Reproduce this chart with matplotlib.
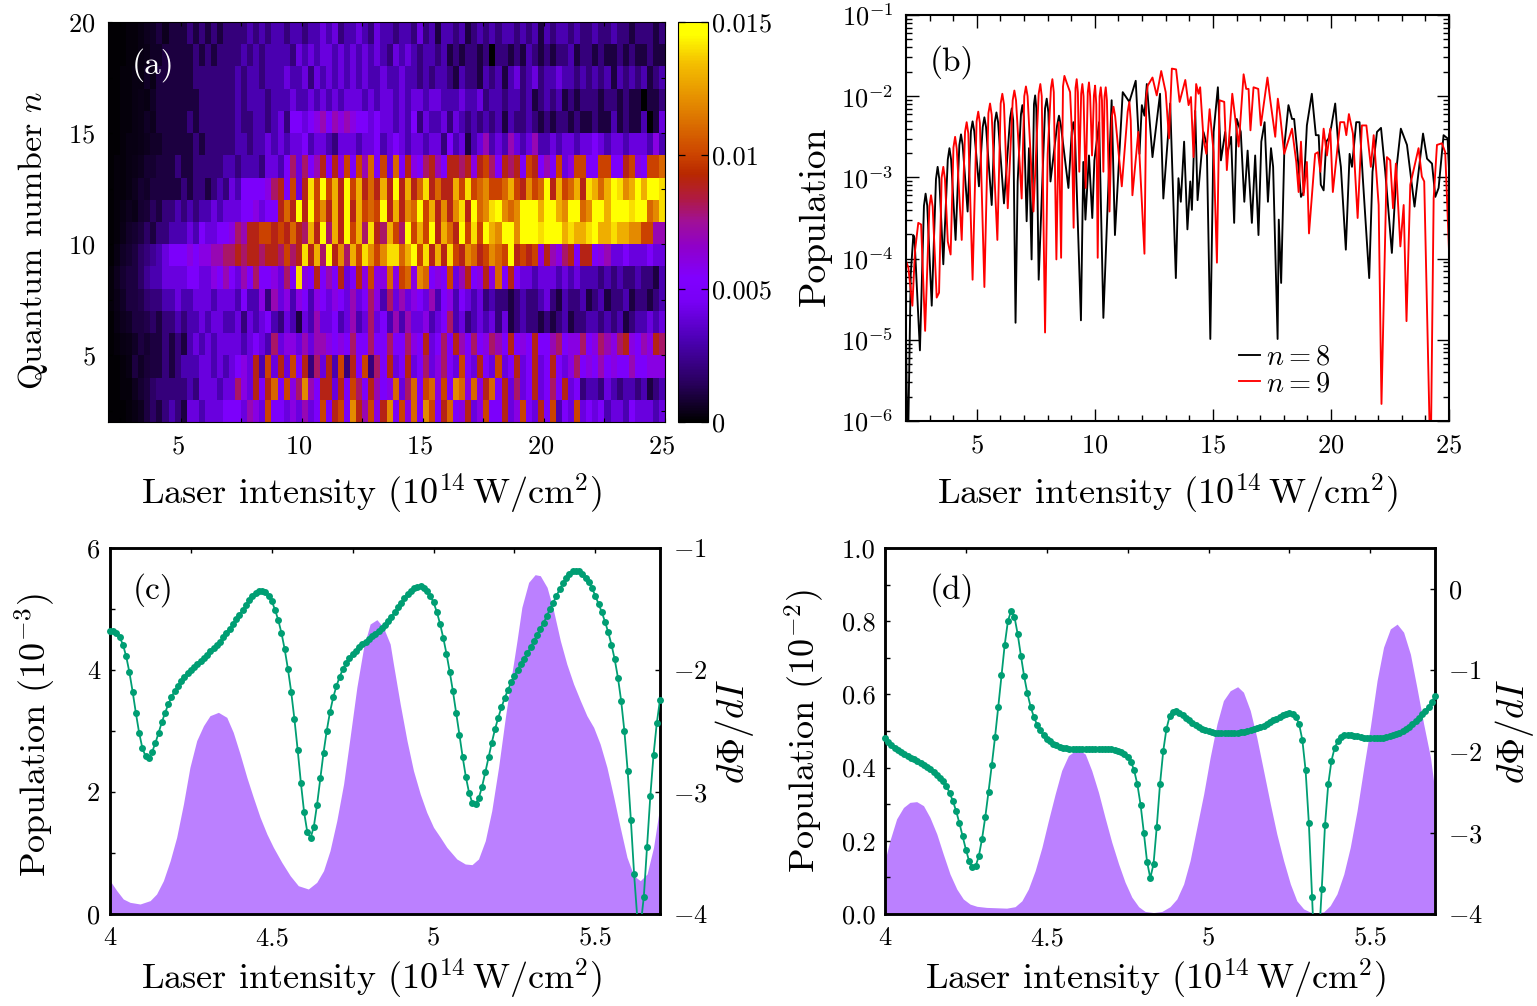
import numpy as np
import matplotlib
matplotlib.use('Agg')
import matplotlib.pyplot as plt
from matplotlib.colors import LinearSegmentedColormap
from matplotlib.ticker import MultipleLocator, FixedLocator, NullFormatter
from matplotlib.transforms import ScaledTranslation

plt.rcParams.update({'font.family': 'cmr10', 'mathtext.fontset': 'cm', 'axes.unicode_minus': False,
                     'axes.formatter.use_mathtext': True, 'font.size': 19})

# ---------- panel (a): population, units of 0.001, columns x = 2, 2.25, ... 24.75
r19 = [.1,.1,.1,.2, .2,.3,.5,.6, 1,0.5,1,1, 1,2,1,2, 1,2,1,2, 2,2,2,3, 2,3,2,3, 3,2,3,3, 2,3,3,4, 3,4,2,3, 3,4,3,2, 4,3,3,2, 3,3,2,4, 2,3,1,3, 3,2,3,1, 2,3,2,3, 2,3,3,2, 3,2,3,1, 3,2,3,3, 2,3,2,2, 3,2,2,3, 2,2,1,2, 2,2,1,2]
r18 = [.1,.1,.1,.2, .2,.3,.4,.6, .6,1,1,1, 1,1,2,1, 2,1,2,2, 2,2,3,2, 3,2,3,3, 3,3,2,4, 3,4,3,4, 4,3,4,3, 4,3,4,3, 4,3,2,4, 3,4,3,2, 3,3,2,3, 1,2,1,2, 2,1,2,0, 2,2,1,2, 1,3,2,1, 2,1,2,2, 3,1,2,2, 1,2,1,1, 2,1,2,1, 1,2,1,1]
r17 = [.1,.1,.2,.2, .3,.3,.6,.4, 1,1,1,1, 1,1,2,2, 2,2,2,2, 2,3,2,3, 3,2,3,3, 3,4,3,3, 4,2,4,3, 4,3,4,3, 4,3,4,3, 3,4,3,3, 4,3,3,2, 3,2,3,3, 2,1,3,2, 2,1,3,2, 3,1,3,4, 2,3,4,2, 3,3,4,3, 3,2,3,2, 3,2,3,1, 3,2,3,2, 3,1,2,3]
r16 = [.1,.1,.2,.2, .3,.4,.3,.6, 1,1,1,1, 1,1,1,2, 2,2,2,2, 2,3,2,3, 3,3,2,3, 3,3,4,3, 3,4,3,4, 3,4,3,4, 4,4,3,4, 3,4,4,3, 4,3,4,4, 3,4,4,3, 3,3,4,3, 3,4,2,3, 3,2,3,3, 2,3,1,2, 3,2,3,1, 2,1,2,2, 2,1,2,2, 1,2,1,1, 0,1,1,2]
r15 = [.1,.1,.2,.2, .3,.4,.6,.5, 1,1,1,1, 1,2,1,2, 2,2,2,2, 2,3,2,2, 3,3,2,3, 4,2,5,5, 4,5,6,7, 5,7,6,7, 6,5,5,4, 5,4,4,3, 4,3,5,2, 4,3,3,4, 2,4,3,2, 3,2,3,2, 3,1,3,2, 2,3,2,1, 2,1,2,2, 1,2,1,1, 2,1,1,3, 1,2,1,1, 3,0,1,4]
r14 = [.1,.1,.2,.3, .3,.4,.5,.7, .7,1,1,1, 1,1,2,1, 2,2,2,2, 2,3,3,2, 3,3,4,3, 4,3,4,4, 5,3,4,4, 3,2,4,4, 4,3,4,4, 5,3,4,5, 4,3,4,4, 3,4,4,2, 5,3,4,1, 3,4,7,3, 4,3,7,4, 3,4,7,3, 3,4,3,4, 4,3,4,4, 5,4,3,4, 4,3,4,4, 4,3,6,3]
r13 = [.1,.2,.2,.3, .4,.5,.8,.8, 1,1,1,2, 1,1,2,2, 2,2,2,3, 3,2,3,3, 3,2,4,4, 3,5,8,4, 8,5,7,9, 5,9,6,10, 5,10,7,11, 5,10,4,11, 5,9,6,5, 8,9,7,5, 9,9,8,9, 6,9,10,8, 5,9,8,9, 5,10,9,5, 7,5,10,4, 6,10,10,5, 5,10,10,5, 5,9,10,6, 5,10,10,11]
r12 = [.1,.2,.2,.3, .5,.8,.7,1, 1,1,1,1, 2,1,2,2, 1,2,3,2, 4,3,5,5, 5,5,6,8, 9,5,10,4, 9,14,10,15, 10,13,9,15, 10,13,9,11, 9,13,9,15, 9,13,9,11, 14,9,11,9, 9,13,10,14, 10,11,12,10, 10,11,13,10, 9,12,10,11, 15,9,13,10, 11,13,9,14, 13,11,13,15, 14,12,13,15, 13,15,16,14]
r11 = [.1,.2,.3,.5, .4,.8,.9,1.5, 1,2,2,3, 2,3,2,3, 3,4,3,4, 4,4,5,5, 6,4,5,5, 9,11,9,15, 9,15,10,12, 9,13,9,15, 9,13,10,11, 10,15,9,13, 9,12,11,15, 10,13,9,12, 9,12,14,9, 15,11,12,14, 15,12,11,12, 15,16,15,13, 15,16,13,12, 16,16,11,12, 16,15,13,15, 16,15,14,16, 15,11,12,14]
r10 = [.1,.2,.4,.7, .8,1,1.6,1, 2,2,3,3, 3,4,3,5, 4,4,5,5, 6,8,7,9, 9,10,10,9, 10,9,11,9, 8,13,9,15, 8,13,9,15, 10,13,8,14, 9,8,13,10, 8,15,10,13, 10,15,9,13, 11,9,15,10, 14,10,15,13, 12,15,16,12, 16,16,16,14, 15,16,16,13, 14,13,13,14, 15,13,13,14, 13,13,12,12, 10,10,7,7]
r9 = [.1,.3,.6,.8, 1,1.6,2,2.5, 3,4,5,5, 5,6,5,6, 6,7,7,8, 8,9,8,9, 9,8,9,9, 8,10,8,9, 14,9,13,8, 15,9,12,8, 13,10,14,12, 10,12,14,14, 11,13,15,10, 14,9,13,9, 14,10,9,12, 11,9,10,12, 11,10,15,9, 10,9,10,6, 9,7,6,8, 9,5,9,9, 5,6,7,4, 4,5,4,4, 4,5,4,4]
r8 = [.2,.5,.8,1, 1,1.6,2.5,3, 3,4,4,4, 4,5,5,4, 4,6,5,7, 5,4,7,5, 8,5,5,6, 4,8,5,14, 6,5,9,5, 7,5,9,4, 5,9,6,10, 6,6,11,6, 10,11,6,12, 11,5,6,5, 10,4,7,9, 5,6,9,6, 11,5,9,5, 4,4,3,4, 4,4,3,4, 3,4,3,3, 3,2,3,2, 3,2,2,3, 2,2,1,3]
r7 = [.2,.4,.6,1, 1,1.2,1.8,2, 2,3,3,4, 3,3,4,4, 4,3,4,4, 4,3,5,3, 3,6,2,7, 4,6,3,6, 5,3,6,5, 4,6,5,4, 7,4,5,8, 6,3,8,4, 7,4,6,5, 4,7,3,5, 6,3,5,4, 3,4,2,3, 2,2,1,2, 3,2,2,3, 4,2,1,3, 2,2,3,1, 2,3,1,2, 2,3,1,2, 2,1,2,3]
r6 = [.1,.3,.5,.6, 1,1,1.2,1.6, 1,2,2,3, 2,3,3,4, 3,4,4,3, 3,4,2,4, 3,4,5,3, 2,4,3,1, 4,3,7,4, 4,5,3,4, 7,3,4,8, 4,5,3,7, 3,7,4,4, 6,3,4,5, 8,3,4,2, 3,4,3,4, 2,4,1,2, 3,2,2,1, 2,1,2,3, 1,2,2,3, 3,2,3,2, 3,1,2,3, 3,4,3,4]
r5 = [.1,.2,.3,.4, .6,1,.8,1, 1,2,1,2, 1,3,4,3, 4,3,4,4, 4,4,3,4, 5,4,3,8, 4,6,6,4, 7,4,7,7, 6,5,6,5, 8,5,5,8, 5,5,8,5, 5,8,6,5, 9,4,5,8, 5,9,7,5, 8,5,6,8, 7,5,9,5, 6,5,9,5, 5,7,8,5, 6,6,8,5, 6,8,7,6, 8,9,6,5, 7,6,9,8]
r4 = [.1,.1,.2,.3, 1,.6,.9,1, 1,2,1,2, 3,3,3,4, 4,3,4,3, 4,5,6,4, 9,3,10,4, 9,4,10,5, 9,2,8,4, 9,3,10,2, 9,5,10,2, 8,5,9,4, 5,9,4,5, 8,4,6,8, 5,4,10,5, 4,9,5,4, 10,4,5,9, 4,5,9,4, 5,9,5,4, 6,8,5,6, 5,7,5,6, 5,5,7,5, 5,6,6,6]
r3 = [.1,.1,.2,.2, .5,.8,1,1.6, 2,2,2,2, 2,3,2,4, 4,4,3,4, 4,8,6,4, 9,5,9,11, 5,10,6,8, 12,7,5,9, 9,4,9,5, 10,8,5,9, 7,5,6,11, 4,8,11,5, 10,11,6,10, 5,12,11,6, 11,6,9,11, 5,9,4,8, 4,5,9,4, 5,8,5,9, 4,5,2,3, 3,2,4,3, 2,3,3,2, 3,1,2,3]
r2 = [.1,.1,.1,.2, .3,.5,1,1.6, 1,2,3,2, 1,4,4,3, 4,4,4,5, 5,5,4,7, 6,4,10,5, 5,4,6,4, 7,4,5,10, 5,9,10,5, 12,9,7,10, 6,9,12,5, 10,6,11,5, 12,10,5,9, 11,5,6,9, 4,6,10,5, 5,9,4,6, 10,5,4,9, 5,10,3,5, 4,10,4,5, 4,5,3,4, 4,3,5,4, 4,4,3,4]
heat_rows = [r2, r3, r4, r5, r6, r7, r8, r9, r10, r11, r12, r13, r14, r15, r16, r17, r18, r19]
heat_x_edges = np.arange(2, 25.01, 0.25)
heat_n_edges = np.arange(2, 21)
cbar_ticks = [0, 0.005, 0.01, 0.015]
cbar_labels = ['0', '0.005', '0.01', '0.015']

# ---------- panel (b): log10 of population
n8_x_head = [2.00,2.05,2.10,2.20,2.31,2.36,2.59,2.76,2.83,2.90,3.09,3.27,3.34,3.41,3.58,3.77,3.84,3.91,4.10,4.26,4.33,4.40,4.61,4.75,4.82,4.89,5.09,5.25,5.32,5.39,5.63,5.76,5.83,5.90,6.15,6.41,6.48,6.54,6.64,6.73,6.87,6.93,6.99,7.11,7.21,7.32,7.42,7.47,7.52,7.62,7.89,7.96,8.03,8.12,8.40,8.48,8.56,8.88,9.02,9.09,9.16,9.41]
n8_log_head = [-5.00,-6.05,-6.05,-4.20,-3.71,-3.75,-5.13,-3.35,-3.20,-3.35,-4.58,-3.02,-2.87,-3.02,-4.07,-2.78,-2.64,-2.78,-3.77,-2.60,-2.47,-2.60,-3.42,-2.43,-2.31,-2.43,-3.11,-2.38,-2.26,-2.38,-3.34,-2.32,-2.20,-2.32,-3.32,-2.27,-2.15,-2.30,-4.79,-3.05,-2.22,-2.11,-2.25,-3.54,-2.64,-4.01,-2.10,-1.99,-2.15,-4.26,-2.15,-2.03,-2.20,-3.05,-2.36,-2.24,-2.36,-3.13,-2.44,-2.32,-2.50,-4.76]
n8_x_tail = [9.51,9.60,9.75,9.89,9.98,10.18,10.36,10.71,10.85,11.18,11.46,11.73,11.89,11.99,12.10,12.20,12.44,12.55,12.76,12.90,13.09,13.19,13.43,13.54,13.64,13.78,13.92,14.04,14.11,14.25,14.35,14.60,14.74,14.89,15.03,15.21,15.34,15.52,15.59,15.77,15.90,16.01,16.18,16.33,16.47,16.65,16.79,16.93,17.05,17.19,17.33,17.46,17.55,17.74,17.79,17.89,18.03,18.20,18.35,18.44,18.56,18.73,18.84,18.98,19.19,19.36,19.48,19.57,19.69,19.80,19.90,20.01,20.18,20.32,20.42,20.63,20.79,20.89,21.07,21.21,21.35,21.62,21.76,21.95,22.12,22.30,22.58,22.79,22.96,23.22,23.54,23.71,23.90,24.07,24.28,24.42,24.56,24.77,24.94,25.00]
n8_log_tail = [-2.81,-3.52,-2.73,-3.50,-2.79,-2.32,-4.73,-2.05,-3.71,-1.95,-2.07,-1.81,-2.71,-2.11,-2.24,-1.85,-2.75,-2.48,-1.97,-3.26,-2.52,-2.09,-4.24,-3.01,-3.30,-2.56,-3.64,-3.05,-3.40,-2.18,-3.28,-2.44,-2.60,-4.99,-2.44,-1.89,-2.79,-2.44,-2.73,-2.50,-3.56,-2.28,-2.44,-3.30,-2.67,-3.56,-2.73,-3.71,-2.56,-2.32,-3.30,-2.64,-2.87,-4.99,-3.52,-4.30,-2.60,-2.11,-2.28,-2.28,-2.64,-3.24,-3.18,-2.36,-1.97,-2.48,-2.48,-3.09,-3.16,-2.56,-2.52,-2.38,-2.09,-2.64,-2.87,-3.89,-2.71,-2.87,-2.32,-2.32,-3.01,-4.24,-2.93,-2.44,-2.39,-2.93,-3.93,-2.85,-2.40,-2.60,-3.36,-2.93,-2.46,-2.77,-2.83,-3.24,-3.13,-2.48,-2.52,-2.90]
n9_x_head = [2.00,2.10,2.27,2.38,2.52,2.64,2.81,2.99,3.06,3.13,3.30,3.40,3.51,3.58,3.65,3.77,3.89,4.01,4.08,4.15,4.36,4.50,4.57,4.64,4.82,4.99,5.06,5.13,5.32,5.49,5.56,5.63,5.87,6.01,6.08,6.15,6.31,6.52,6.59,6.66,6.90,7.01,7.08,7.15,7.40,7.62,7.69,7.75,7.89,8.00,8.14,8.20,8.26,8.37,8.47,8.57,8.65,8.71,8.79,8.95,9.02,9.10,9.18,9.23,9.28,9.34,9.42,9.47,9.52,9.61,9.70,9.75,9.80,9.88,9.96,10.01,10.06,10.12,10.20,10.25,10.30,10.36,10.41,10.46,10.51,10.62,10.72,10.79,10.86,11.14,11.39,11.46,11.52,11.59,11.84,12.10,12.18,12.24]
n9_log_head = [-4.03,-4.11,-4.58,-3.91,-3.56,-3.58,-4.89,-3.36,-3.22,-3.36,-4.48,-4.42,-3.00,-2.87,-3.02,-3.79,-3.95,-2.63,-2.50,-2.65,-3.77,-2.44,-2.32,-2.46,-4.26,-2.31,-2.19,-2.33,-4.35,-2.21,-2.09,-2.23,-3.77,-2.09,-1.97,-2.10,-3.38,-2.05,-1.93,-2.05,-3.26,-2.00,-1.88,-2.00,-3.42,-1.97,-1.85,-2.00,-4.91,-2.71,-1.90,-1.79,-1.95,-4.01,-2.32,-3.99,-1.88,-1.75,-1.82,-1.95,-2.40,-3.62,-1.90,-1.79,-1.95,-2.93,-1.97,-1.85,-2.00,-3.13,-1.95,-1.83,-2.00,-2.73,-1.99,-1.87,-2.10,-3.99,-2.00,-1.89,-2.05,-2.93,-2.00,-1.89,-2.05,-3.42,-2.25,-2.13,-2.25,-3.11,-2.19,-2.07,-2.30,-3.22,-2.44,-3.94,-2.00,-1.87]
n9_x_tail = [12.44,12.62,12.81,13.00,13.14,13.26,13.44,13.59,13.83,13.97,14.07,14.18,14.29,14.39,14.46,14.60,14.72,14.86,15.03,15.17,15.28,15.48,15.59,15.82,16.09,16.30,16.41,16.51,16.59,16.72,16.92,17.03,17.31,17.43,17.64,17.75,17.85,18.02,18.35,18.53,18.63,18.73,18.84,18.98,19.07,19.33,19.45,19.55,19.69,19.83,19.97,20.08,20.39,20.56,20.65,20.76,20.93,21.13,21.31,21.50,21.69,21.81,22.02,22.14,22.37,22.51,22.63,22.75,22.94,23.08,23.20,23.36,23.71,23.85,23.95,24.18,24.24,24.35,24.49,24.70,24.84,25.00]
n9_log_tail = [-1.77,-1.99,-1.69,-1.95,-2.52,-1.66,-1.67,-2.07,-1.80,-2.11,-2.01,-2.75,-1.85,-1.97,-1.89,-2.52,-2.71,-2.16,-2.69,-4.05,-2.05,-2.07,-2.91,-1.97,-2.62,-1.73,-1.91,-1.91,-2.42,-1.89,-1.91,-2.36,-1.77,-2.05,-2.50,-2.03,-2.24,-2.71,-2.40,-2.81,-3.18,-2.56,-3.22,-2.81,-3.69,-2.71,-2.69,-2.93,-2.40,-2.73,-2.40,-3.18,-2.32,-2.32,-2.48,-2.22,-2.46,-3.50,-2.36,-2.36,-2.87,-2.48,-3.34,-5.79,-2.75,-2.79,-3.38,-2.83,-3.85,-3.34,-4.77,-3.09,-2.64,-2.99,-3.05,-6.10,-6.10,-3.26,-2.60,-2.58,-2.69,-3.90]

# ---------- panel (c)
c_fill_x = [4.000,4.021,4.041,4.062,4.093,4.124,4.144,4.165,4.186,4.206,4.227,4.247,4.268,4.289,4.309,4.335,4.361,4.381,4.402,4.423,4.443,4.464,4.485,4.505,4.531,4.557,4.582,4.613,4.639,4.660,4.680,4.701,4.722,4.742,4.763,4.784,4.804,4.825,4.845,4.866,4.876,4.897,4.918,4.938,4.959,4.979,5.000,5.021,5.041,5.072,5.098,5.119,5.139,5.160,5.180,5.201,5.222,5.242,5.258,5.273,5.294,5.314,5.330,5.351,5.371,5.392,5.412,5.433,5.454,5.474,5.495,5.515,5.536,5.557,5.577,5.598,5.619,5.639,5.660,5.680,5.699]
c_fill_y = [.546,.383,.246,.191,.164,.219,.328,.546,.874,1.257,1.803,2.404,2.842,3.087,3.251,3.306,3.224,2.978,2.623,2.240,1.913,1.585,1.311,1.093,.847,.628,.464,.410,.519,.710,1.038,1.530,2.131,2.896,3.716,4.372,4.754,4.825,4.699,4.426,4.098,3.443,2.842,2.350,1.967,1.667,1.421,1.257,1.093,.902,.820,.809,.902,1.202,1.694,2.404,3.224,3.934,4.481,5.027,5.437,5.563,5.546,5.355,4.973,4.481,4.098,3.770,3.497,3.251,3.060,2.787,2.404,1.913,1.421,.929,.628,.546,.656,1.093,1.749]
c_dphi = [-1.678,-1.683,-1.700,-1.732,-1.792,-1.888,-2.019,-2.178,-2.353,-2.514,-2.639,-2.708,-2.719,-2.672,-2.601,-2.517,-2.429,-2.353,-2.282,-2.224,-2.170,-2.129,-2.088,-2.055,-2.025,-2.000,-1.973,-1.948,-1.924,-1.899,-1.875,-1.847,-1.823,-1.792,-1.768,-1.732,-1.697,-1.661,-1.623,-1.585,-1.547,-1.508,-1.467,-1.426,-1.394,-1.372,-1.355,-1.353,-1.364,-1.391,-1.435,-1.506,-1.590,-1.697,-1.831,-1.992,-2.178,-2.402,-2.653,-2.924,-3.167,-3.331,-3.377,-3.284,-3.104,-2.888,-2.678,-2.497,-2.344,-2.224,-2.131,-2.055,-1.992,-1.943,-1.905,-1.869,-1.842,-1.814,-1.787,-1.768,-1.746,-1.724,-1.702,-1.678,-1.659,-1.629,-1.596,-1.563,-1.528,-1.487,-1.448,-1.410,-1.377,-1.350,-1.328,-1.317,-1.314,-1.325,-1.350,-1.391,-1.446,-1.522,-1.620,-1.735,-1.866,-2.014,-2.175,-2.350,-2.530,-2.713,-2.877,-3.008,-3.090,-3.098,-3.049,-2.956,-2.839,-2.716,-2.596,-2.486,-2.391,-2.306,-2.230,-2.164,-2.101,-2.049,-1.997,-1.951,-1.907,-1.864,-1.814,-1.765,-1.716,-1.664,-1.615,-1.560,-1.500,-1.448,-1.391,-1.339,-1.290,-1.246,-1.213,-1.192,-1.186,-1.192,-1.213,-1.246,-1.282,-1.331,-1.391,-1.457,-1.525,-1.604,-1.691,-1.792,-1.913,-2.063,-2.254,-2.503,-2.825,-3.232,-3.675,-4.04,-4.10,-3.858,-3.448,-3.036,-2.697,-2.437,-2.246]

# ---------- panel (d)
d_fill_x = [4.000,4.015,4.036,4.057,4.077,4.098,4.119,4.139,4.160,4.180,4.201,4.222,4.242,4.263,4.284,4.314,4.345,4.376,4.402,4.423,4.443,4.464,4.485,4.505,4.526,4.546,4.567,4.588,4.603,4.619,4.639,4.660,4.680,4.701,4.722,4.742,4.763,4.784,4.804,4.830,4.856,4.881,4.902,4.923,4.943,4.964,4.985,5.005,5.026,5.046,5.067,5.090,5.108,5.129,5.149,5.170,5.191,5.211,5.232,5.253,5.273,5.294,5.315,5.335,5.356,5.376,5.397,5.418,5.438,5.459,5.480,5.500,5.521,5.541,5.562,5.583,5.603,5.624,5.644,5.665,5.686,5.696]
d_fill_y = [.146,.200,.260,.291,.305,.307,.296,.264,.219,.164,.109,.068,.041,.027,.021,.018,.017,.016,.020,.036,.068,.118,.182,.255,.328,.392,.433,.446,.446,.437,.392,.332,.264,.196,.137,.087,.046,.020,.007,.004,.007,.020,.041,.082,.146,.237,.328,.428,.519,.583,.610,.621,.606,.556,.483,.392,.301,.219,.146,.082,.036,.014,.005,.003,.006,.023,.055,.109,.182,.282,.401,.510,.638,.729,.779,.792,.770,.710,.619,.519,.428,.360]
d_dphi = [-1.832,-1.885,-1.926,-1.959,-1.988,-2.012,-2.037,-2.057,-2.078,-2.098,-2.119,-2.139,-2.164,-2.188,-2.217,-2.249,-2.286,-2.323,-2.368,-2.425,-2.515,-2.613,-2.736,-2.883,-3.043,-3.207,-3.350,-3.427,-3.415,-3.288,-3.076,-2.806,-2.495,-2.172,-1.828,-1.456,-1.067,-0.691,-0.397,-0.270,-0.344,-0.556,-0.822,-1.076,-1.284,-1.452,-1.575,-1.673,-1.742,-1.804,-1.845,-1.877,-1.906,-1.926,-1.943,-1.955,-1.963,-1.971,-1.975,-1.975,-1.975,-1.975,-1.975,-1.971,-1.971,-1.967,-1.967,-1.967,-1.967,-1.967,-1.971,-1.980,-1.992,-2.008,-2.037,-2.070,-2.127,-2.233,-2.405,-2.658,-2.998,-3.358,-3.558,-3.386,-2.928,-2.405,-1.996,-1.722,-1.566,-1.513,-1.505,-1.526,-1.554,-1.587,-1.620,-1.648,-1.677,-1.701,-1.722,-1.738,-1.755,-1.763,-1.771,-1.775,-1.779,-1.779,-1.779,-1.779,-1.775,-1.771,-1.767,-1.759,-1.750,-1.742,-1.730,-1.718,-1.701,-1.685,-1.665,-1.644,-1.620,-1.599,-1.575,-1.554,-1.538,-1.530,-1.538,-1.575,-1.665,-1.861,-2.233,-2.875,-3.791,-4.70,-4.40,-3.689,-2.908,-2.405,-2.115,-1.955,-1.873,-1.824,-1.804,-1.795,-1.800,-1.808,-1.816,-1.824,-1.832,-1.836,-1.840,-1.840,-1.840,-1.836,-1.832,-1.824,-1.816,-1.804,-1.787,-1.771,-1.750,-1.726,-1.697,-1.665,-1.628,-1.587,-1.546,-1.501,-1.452,-1.391,-1.321]
dot_x = np.arange(171) * 0.01 + 4.0

BLACK = '#000000'
RED = '#ff0000'
GREEN = '#009E73'
VIOLET = '#BB80FF'
W, H = 1537, 1006
fig = plt.figure(figsize=(W / 100, H / 100), dpi=100)

def box(l, t, r, b):
    return fig.add_axes([l / W, 1 - b / H, (r - l) / W, (b - t) / H])

def xlabel(ax, txt, x, y):
    ax.set_xlabel(txt, fontsize=26)
    ax.xaxis.set_label_coords(x, y)
    ax.xaxis.label.set_va('center')

def ylabel(ax, txt, x, fs=26, y=0.5):
    ax.set_ylabel(txt, fontsize=fs)
    ax.yaxis.set_label_coords(x, y)
    ax.yaxis.label.set_va('center')

XL = r'Laser intensity ($10^{14}\,$W/cm$^2$)'

# (a)
cmap = LinearSegmentedColormap.from_list('pm3d', [
    (0.0, '#000000'), (0.1, '#2a0060'), (0.2, '#4a00b0'), (0.3, '#7800f5'), (0.36, '#8000ff'),
    (0.44, '#9000c8'), (0.5, '#a01098'), (0.56, '#b01a40'), (0.62, '#b82800'), (0.67, '#cc4400'),
    (0.8, '#e48a00'), (0.9, '#f4c000'), (0.97, '#ffff00'), (1.0, '#ffff00')])
axa = box(108, 22, 665, 422)
Z = np.array(heat_rows) * 0.001
mesh = axa.pcolormesh(heat_x_edges, heat_n_edges, Z, cmap=cmap, vmin=0, vmax=0.015, shading='flat', rasterized=True)
axa.set_xlim(2, 25); axa.set_ylim(2, 20)
axa.set_xticks([5, 10, 15, 20, 25]); axa.set_yticks([5, 10, 15, 20])
axa.xaxis.set_minor_locator(MultipleLocator(2.5)); axa.yaxis.set_minor_locator(MultipleLocator(2.5))
axa.tick_params(which='both', direction='in', length=3, width=0.8, top=True, right=True, pad=9)
shift = ScaledTranslation(-3 / 100, 0, fig.dpi_scale_trans)
for lab in axa.get_xticklabels():
    lab.set_transform(lab.get_transform() + shift)
xlabel(axa, XL, 0.473, -0.18)
ylabel(axa, r'Quantum number $n$', -0.135, 24.5, 0.455)
axa.text(0.081, 0.893, '(a)', color='white', transform=axa.transAxes, ha='center', va='center', fontsize=24)
cax = box(678, 22, 708, 422)
cb = fig.colorbar(mesh, cax=cax)
cb.set_ticks(cbar_ticks); cb.set_ticklabels(cbar_labels)
cb.ax.tick_params(direction='in', length=5, width=0.9, left=True, right=True, pad=3)
cb.ax.tick_params(labelsize=19)

# (b)
axb = box(906, 15, 1449, 421)
axb.plot(n8_x_head + n8_x_tail, 10.0 ** np.array(n8_log_head + n8_log_tail), color=BLACK, lw=1.35, label=r'$n=8$', solid_joinstyle='round')
axb.plot(n9_x_head + n9_x_tail, 10.0 ** np.array(n9_log_head + n9_log_tail), color=RED, lw=1.35, label=r'$n=9$', solid_joinstyle='round')
axb.set_yscale('log'); axb.set_xlim(2, 25); axb.set_ylim(1e-6, 1e-1)
axb.set_xticks([5, 10, 15, 20, 25]); axb.xaxis.set_minor_locator(MultipleLocator(1))
axb.set_yticks([1e-6, 1e-5, 1e-4, 1e-3, 1e-2, 1e-1])
axb.yaxis.set_minor_locator(matplotlib.ticker.LogLocator(base=10, subs=range(2, 10), numticks=12))
axb.yaxis.set_minor_formatter(NullFormatter())
axb.tick_params(which='major', direction='in', length=9, width=1, top=True, right=True, pad=9)
axb.tick_params(which='minor', direction='in', length=4.5, width=1, top=True, right=True)
for s in axb.spines.values():
    s.set_linewidth(1.5)
xlabel(axb, XL, 0.482, -0.18)
ylabel(axb, 'Population', -0.168, 27, 0.505)
axb.text(0.085, 0.885, '(b)', transform=axb.transAxes, ha='center', va='center', fontsize=24)
axb.legend(loc='lower left', bbox_to_anchor=(0.613, 0.059), frameon=False, fontsize=20.5, handlelength=0.74,
           handletextpad=0.22, labelspacing=0.0, borderpad=0, borderaxespad=0)

# (c), (d)
def lower(l, r, fill_x, fill_y, dphi, ymax, yticks, yticklabels, yminor, rlim, rticks, lbl, lblx, ylab, ylx, yly, ryx, xlx):
    ax = box(l, 548, r, 914)
    ax.fill_between(fill_x, 0, fill_y, color=VIOLET, lw=0)
    ax.set_xlim(4, 5.7); ax.set_ylim(0, ymax)
    ax.set_xticks([4, 4.5, 5, 5.5]); ax.set_xticklabels(['4', '4.5', '5', '5.5'])
    ax.xaxis.set_minor_locator(FixedLocator([4.25, 4.75, 5.25]))
    ax.set_yticks(yticks); ax.set_yticklabels(yticklabels)
    ax.yaxis.set_minor_locator(FixedLocator(yminor))
    ax.tick_params(which='both', direction='in', length=3.5, width=1, top=True, bottom=False, right=False, pad=9)
    ax.tick_params(axis='y', pad=7)
    xlabel(ax, XL, xlx, -0.178)
    ylabel(ax, ylab, ylx, 26, yly)
    ax.text(lblx, 0.885, lbl, transform=ax.transAxes, ha='center', va='center', fontsize=24)
    tw = ax.twinx()
    dp = np.array(dphi)
    tw.plot(dot_x, dp, color=GREEN, lw=1.3, zorder=3)
    inside = dp >= rlim[0]
    tw.plot(dot_x[inside], dp[inside], ls='none', marker='o', ms=5, mfc=GREEN, mec=GREEN, mew=0, clip_on=False, zorder=4)
    tw.set_ylim(*rlim); tw.set_xlim(4, 5.7)
    tw.set_yticks(rticks); tw.set_yticklabels([f'${t}$' for t in rticks])
    tw.tick_params(direction='in', length=3.5, width=1, pad=9)
    ylabel(tw, r'$d\Phi/dI$', ryx, 27)
    tw.yaxis.label.set_rotation(90)
    for a in (ax, tw):
        for s in a.spines.values():
            s.set_linewidth(1.8)
    return ax

lower(110, 660, c_fill_x, c_fill_y, c_dphi, 6, [0, 2, 4, 6], ['0', '2', '4', '6'], [1, 3, 5],
      (-4, -1), [-4, -3, -2, -1], '(c)', 0.078, r'Population ($10^{-3}$)', -0.136, 0.49, 1.136, 0.475)
lower(885, 1435, d_fill_x, d_fill_y, d_dphi, 1.0, [0, .2, .4, .6, .8, 1.0], ['0.0', '0.2', '0.4', '0.6', '0.8', '1.0'],
      [.1, .3, .5, .7, .9], (-4, 0.5), [-4, -3, -2, -1, 0], '(d)', 0.122, r'Population ($10^{-2}$)', -0.145, 0.5, 1.145, 0.493)

fig.savefig('out.png', dpi=100, facecolor='white')
